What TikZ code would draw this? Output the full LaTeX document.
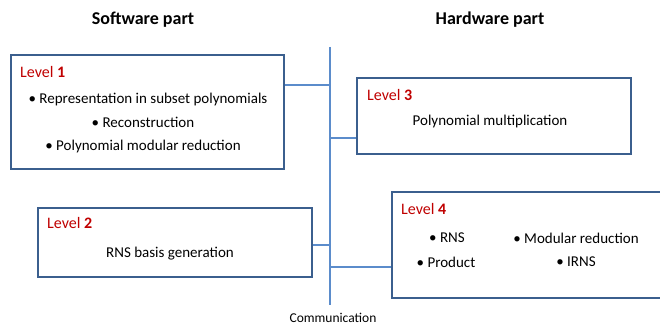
\documentclass[tikz,border=0pt]{standalone}
\usepackage{fontspec}
\setmainfont{Carlito}
\definecolor{boxblue}{HTML}{3B5F8E}
\definecolor{linkblue}{HTML}{5B8CCB}
\definecolor{lvlred}{HTML}{C00000}
\begin{document}
\begin{tikzpicture}[x=1pt,y=-1pt,
  box/.style={draw=boxblue,line width=2.4pt,fill=white,rectangle,inner sep=0pt},
  link/.style={draw=linkblue,line width=1.4pt},
  lvl/.style={anchor=west,text=lvlred,font=\fontsize{16}{18}\selectfont,inner sep=0pt},
  item/.style={font=\fontsize{15}{17}\selectfont,inner sep=0pt},
  head/.style={font=\bfseries\fontsize{18}{21}\selectfont,inner sep=0pt}]
\useasboundingbox (0,0) rectangle (660,326);
% spine
\coordinate (top) at (330,47);
\coordinate (bot) at (330,305);
\draw[link] (top) -- (bot);
% boxes
\node[box,minimum width=273pt,minimum height=114pt] (b1) at (147.5,112) {};
\node[box,minimum width=274pt,minimum height=69pt] (b2) at (175,242.5) {};
\node[box,minimum width=274pt,minimum height=76pt] (b3) at (494,116) {};
\node[box,minimum width=280pt,minimum height=106pt] (b4) at (532,245) {};
% connectors
\coordinate (j1) at (330,85);
\coordinate (j2) at (330,138);
\coordinate (j3) at (330,245);
\coordinate (j4) at (330,267);
\draw[link] (j1 -| b1.east) -- (j1);
\draw[link] (j2) -- (j2 -| b3.west);
\draw[link] (j3 -| b2.east) -- (j3);
\draw[link] (j4) -- (j4 -| b4.west);
% headings
\node[head] (sw) at (143,20) {Software part};
\node[head] (hw) at (490,20) {Hardware part};
% level 1
\node[lvl] (l1) at (20,72) {Level \textbf{1}};
\node[item] (t11) at (148,100) {\textbullet\ Representation in subset polynomials};
\node[item] (t12) at (143,122) {\textbullet\ Reconstruction};
\node[item] (t13) at (143,146) {\textbullet\ Polynomial modular reduction};
% level 2
\node[lvl] (l2) at (47,223) {Level \textbf{2}};
\node[item] (t21) at (170,254) {RNS basis generation};
% level 3
\node[lvl] (l3) at (367,95) {Level \textbf{3}};
\node[item] (t31) at (490,122) {Polynomial multiplication};
% level 4
\node[lvl] (l4) at (401,209) {Level \textbf{4}};
\node[item] (t41) at (447,238) {\textbullet\ RNS};
\node[item] (t42) at (576,238) {\textbullet\ Modular reduction};
\node[item] (t43) at (446,262) {\textbullet\ Product};
\node[item] (t44) at (576,262) {\textbullet\ IRNS};
% communication
\node[font=\fontsize{13.5}{15}\selectfont,inner sep=0pt] (com) at (333,317.5) {Communication};
\end{tikzpicture}
\end{document}
